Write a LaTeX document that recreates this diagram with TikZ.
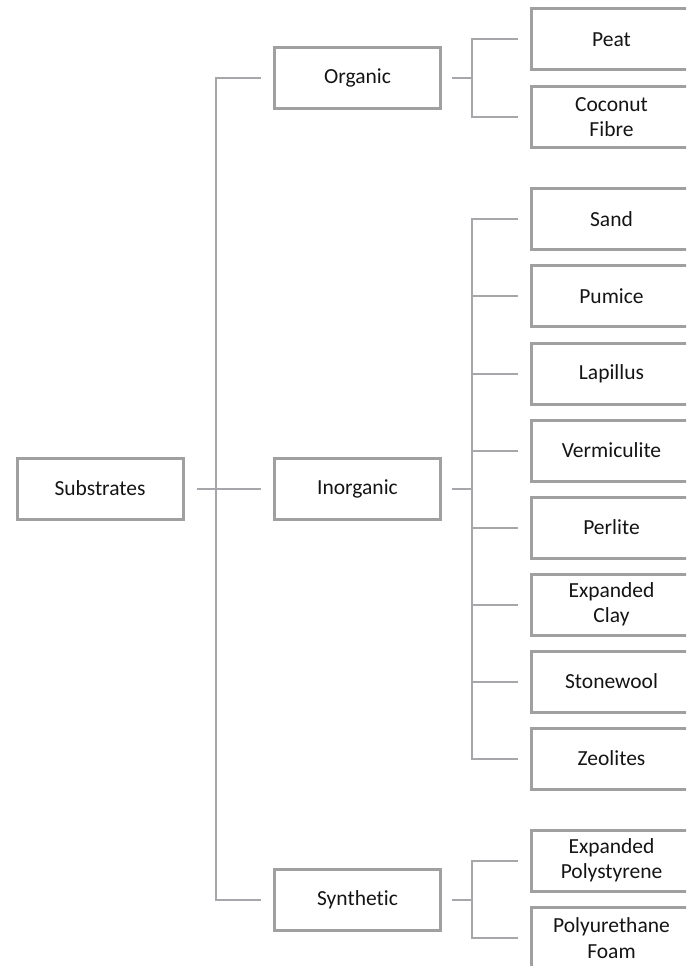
\documentclass[tikz,border=0pt]{standalone}
\usepackage{fontspec}
\setmainfont{Carlito}[RawFeature=-liga]
\begin{document}
\begin{tikzpicture}[x=1pt,y=-1pt,
  box/.style={draw=boxgray,line width=3pt,minimum width=166pt,minimum height=61pt,inner sep=0pt,align=center,font=\fontsize{21.5}{25.5}\selectfont,text=textdark},
  leaf/.style={box,minimum width=160pt,anchor=west},
  conn/.style={draw=linegray,line width=2pt}]
\definecolor{boxgray}{HTML}{A0A0A0}
\definecolor{linegray}{HTML}{A6A6AB}
\definecolor{textdark}{HTML}{141414}
\useasboundingbox (0,0) rectangle (686,966);
\clip (0,0) rectangle (686,966);
% level 0
\node[box] (sub) at (100,488.5) {Substrates};
% level 1
\node[box] (org) at (357.5,78) {Organic};
\node[box] (ino) at (357.5,488.5) {Inorganic};
\node[box] (syn) at (357.5,900) {Synthetic};
% leaves
\node[leaf] (peat) at (530,39.5) {Peat};
\node[leaf] (coco) at (530,117) {Coconut\\Fibre};
\node[leaf] (sand) at (530,219) {Sand};
\node[leaf] (pum) at (530,296) {Pumice};
\node[leaf] (lap) at (530,373.5) {Lapillus};
\node[leaf] (ver) at (530,450.5) {Vermiculite};
\node[leaf] (per) at (530,527.5) {Perlite};
\node[leaf] (ecl) at (530,604.5) {Expanded\\Clay};
\node[leaf] (sto) at (530,681.5) {Stonewool};
\node[leaf] (zeo) at (530,758.5) {Zeolites};
\node[leaf] (eps) at (530,860.5) {Expanded\\Polystyrene};
\node[leaf] (puf) at (530,938) {Polyurethane\\Foam};
% coordinates of junctions
\coordinate (j0) at (216,488.5);
\coordinate (jo) at (472,78);
\coordinate (ji) at (472,488.5);
\coordinate (js) at (472,900);
% main tree
\draw[conn] ([xshift=12pt]sub.east) -- ([xshift=-12pt]ino.west);
\draw[conn] ([xshift=-12pt]org.west) -| (j0) |- ([xshift=-12pt]syn.west);
% organic
\draw[conn] ([xshift=10pt]org.east) -- (jo);
\draw[conn] ([xshift=-12pt]peat.west) -| (jo) |- ([xshift=-12pt]coco.west);
% inorganic
\draw[conn] ([xshift=10pt]ino.east) -- (ji);
\draw[conn] ([xshift=-12pt]sand.west) -| (ji) |- ([xshift=-12pt]zeo.west);
\foreach \n in {pum,lap,ver,per,ecl,sto}
  \draw[conn] (472,0 |- \n.west) -- ([xshift=-12pt]\n.west);
% synthetic
\draw[conn] ([xshift=10pt]syn.east) -- (js);
\draw[conn] ([xshift=-12pt]eps.west) -| (js) |- ([xshift=-12pt]puf.west);
\end{tikzpicture}
\end{document}
